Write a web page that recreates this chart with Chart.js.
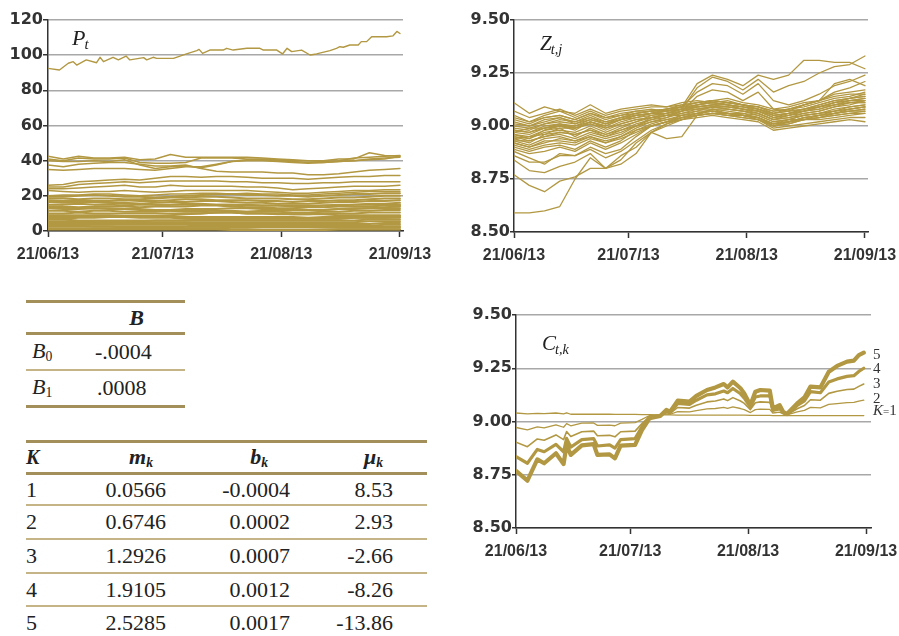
<!DOCTYPE html>
<html>
<head>
<meta charset="utf-8">
<script src="https://cdn.jsdelivr.net/npm/chart.js@4.4.0/dist/chart.umd.min.js"></script>
<style>
  body { margin: 0; background: #fff; width: 899px; height: 636px; overflow: hidden; position: relative; font-family: "Liberation Serif", serif; color: #222; }
  .box { position: absolute; }
  .box canvas { display: block; }
  .ttl { position: absolute; font-style: italic; line-height: 1; white-space: nowrap; color: #222; }
  .ttl sub { font-size: 0.68em; vertical-align: -0.28em; margin-left: -1px; }
  .klab { position: absolute; left: 873px; font-size: 15px; line-height: 15px; color: #333; white-space: nowrap; }
  table { position: absolute; border-collapse: separate; border-spacing: 0; font-size: 22px; table-layout: fixed; }
  td, th { padding: 0; box-sizing: border-box; vertical-align: middle; white-space: nowrap; }
  th { font-weight: bold; font-style: italic; }
  th sub { font-size: 0.62em; vertical-align: -0.2em; }
  td sub { font-size: 0.62em; vertical-align: -0.25em; }
  .top3 { border-top: 3px solid #a38f59; }
  .bot3 td, .bot3 th { border-bottom: 3px solid #a38f59; }
  .bot1 td { border-bottom: 2px solid #c4b486; }
</style>
</head>
<body>

<div class="box" style="left:0;top:0;width:450px;height:270px"><canvas id="chartP" width="450" height="270"></canvas></div>
<div class="box" style="left:450px;top:0;width:449px;height:270px"><canvas id="chartZ" width="449" height="270"></canvas></div>
<div class="box" style="left:450px;top:290px;width:449px;height:280px"><canvas id="chartC" width="449" height="280"></canvas></div>

<div class="ttl" style="left:72px;top:27px;font-size:22px">P<sub>t</sub></div>
<div class="ttl" style="left:540px;top:33px;font-size:21px">Z<sub>t,j</sub></div>
<div class="ttl" style="left:542px;top:333px;font-size:21px">C<sub>t,k</sub></div>

<div class="klab" style="top:347px">5</div>
<div class="klab" style="top:361px">4</div>
<div class="klab" style="top:376px">3</div>
<div class="klab" style="top:391px">2</div>
<div class="klab" style="top:403px"><i>K</i><span style="font-size:11px">=</span>1</div>

<table style="left:26px;top:300px;width:159px" class="top3">
  <colgroup><col style="width:62px"><col style="width:97px"></colgroup>
  <tr class="bot3"><th style="height:32px"></th><th style="height:32px;text-align:center">B</th></tr>
  <tr class="bot1"><td style="height:36px;padding-left:6px"><i>B</i><sub>0</sub></td><td style="height:36px;padding-left:7px">-.0004</td></tr>
  <tr class="bot3"><td style="height:37px;padding-left:6px"><i>B</i><sub>1</sub></td><td style="height:37px;padding-left:9px">.0008</td></tr>
</table>

<table style="left:26px;top:440px;width:401px" class="top3" id="tabK">
  <colgroup><col style="width:54px"><col style="width:100px"><col style="width:120px"><col style="width:127px"></colgroup>
  <tr class="bot3">
    <th style="height:32px;text-align:left;font-size:20px">K</th>
    <th style="height:32px;text-align:right;padding-right:27px">m<sub>k</sub></th>
    <th style="height:32px;text-align:right;padding-right:32px">b<sub>k</sub></th>
    <th style="height:32px;text-align:right;padding-right:44px">μ<sub>k</sub></th>
  </tr>
</table>

<script>
// time axis: days counted from 21/06/13
const xTickDays = [0, 30, 61, 92];
const xTickLabels = ['21/06/13', '21/07/13', '21/08/13', '21/09/13'];
const dayGrid = [0, 4, 8, 12, 16, 20, 24, 28, 32, 36, 40, 44, 48, 52, 56, 60, 64, 68, 72, 76, 80, 84, 88, 92];

// ---- P_t ----
const pTopDays = [0, 3, 5.3, 6.6, 7.5, 10, 12.7, 13.6, 14.5, 17, 18.4, 20.4, 21.4, 25, 25.8, 27.5, 28.4, 32.8, 36.2, 38.9, 39.5, 40.4, 42.3, 45.8, 46.7, 48.4, 52, 55.4, 56.3, 59.8, 61.3, 62.5, 63.7, 66.3, 68.5, 70.2, 73.7, 75.4, 76.3, 77.2, 78.9, 81.1, 81.9, 83.3, 84.6, 88.5, 90.2, 91.2, 92];
const pTop = [92.5, 91.6, 95.4, 96.3, 94.4, 97.3, 95.7, 98.8, 96.3, 98.8, 97.3, 99.5, 97.3, 98.6, 97.3, 98.8, 98.2, 98.2, 100.7, 102.6, 103.3, 101, 102.9, 102.9, 103.9, 102.9, 103.9, 103.9, 102.9, 102.9, 100.7, 103.9, 102, 102.9, 100.1, 100.7, 102.6, 103.9, 104.8, 104.5, 105.8, 105.8, 107.7, 107.7, 110.5, 110.5, 111, 113.5, 112.3];
const pA = [42.5, 41, 42.5, 41.5, 41.5, 42, 40.5, 41, 43.5, 42, 42, 42, 42, 42, 41.5, 41, 40.5, 40, 40, 41, 41, 44.5, 43, 42.5];
const pB = [41, 40, 41.5, 41, 41, 41.5, 39, 38.5, 38.5, 39, 41.5, 41.5, 41.5, 41, 41, 40.5, 40, 40, 39.5, 40, 41.5, 42, 42.5, 43];
const pC = [40, 39.5, 39.5, 40, 39.5, 40.5, 37.5, 35.5, 36.5, 37, 36, 37.5, 39.5, 40.5, 40.5, 40, 39.5, 39, 39, 39.5, 40, 41, 41.5, 42];
const pD = [37.5, 36.5, 38, 38.5, 39, 39, 38, 37, 37, 37.5, 35.5, 34, 33.5, 33.5, 33.5, 33, 33, 32, 32, 32.5, 33.5, 34.5, 35, 35.5];
const pE = [35, 34.5, 35, 35.5, 35.5, 35.5, 35, 34.5, 35.5, 36.5, 36.5, 38, 39.5, 40, 40, 39.5, 39, 38.5, 39, 39.5, 40, 40.5, 41, 42.5];
const pF = [26, 26.5, 28, 28.5, 29, 29.5, 29, 30, 31, 31, 30.5, 31, 31, 30.5, 30, 30, 30, 29.5, 30, 30.5, 31, 31, 31.5, 31.5];
const pG = [25, 25, 26.5, 27, 27.5, 28, 27.5, 28, 28.5, 28.5, 28.5, 28.5, 28, 28, 27.5, 27.5, 27, 27, 27.5, 27.5, 28, 28, 28, 28];
const pH = [24, 24, 24.5, 25, 25.5, 26, 25, 25, 26, 25.5, 25.5, 25.5, 25.5, 25, 25, 24.5, 23.5, 24, 24.5, 25, 25.5, 25.5, 25.5, 26];
const pI = [23, 22.5, 22, 22.5, 22.5, 23, 22.5, 22, 22.5, 23, 23, 23, 23, 23, 22.5, 22, 21.5, 21.5, 22, 22.5, 23, 23, 23.5, 23.5];
const pJ = [20, 20.5, 20.5, 21, 21, 20.5, 20, 20.5, 21, 21, 21.5, 21.5, 21, 21.5, 21, 21, 20.5, 20.5, 21, 21.5, 22, 22.5, 22.5, 22.5];
const pL01 = [19.5, 19.5, 20, 20.5, 20, 19.5, 19.5, 19, 19.5, 20, 20.5, 21, 21, 20.5, 20.5, 20, 20, 19.5, 20, 20.5, 21, 21, 21.5, 21.5];
const pL02 = [18.5, 18.5, 18, 18.5, 18.5, 18, 18, 18.5, 19, 19, 19.5, 19.5, 19, 18.5, 18.5, 18.5, 18, 18, 18.5, 19, 19, 19.5, 20, 20];
const pL03 = [17.5, 17, 17.5, 17, 17, 17.5, 17, 17, 17.5, 18, 18, 17.5, 17.5, 17.5, 17, 17, 16.5, 17, 17, 17.5, 17.5, 18, 18.5, 18.5];
const pL04 = [16.5, 16, 16, 16.5, 16, 16, 15.5, 16, 16.5, 16.5, 17, 17, 16.5, 16, 16, 15.5, 15.5, 15.5, 16, 16.5, 16.5, 17, 17, 17.5];
const pL05 = [15, 15, 15.5, 15, 15, 14.5, 15, 15, 15, 15.5, 15.5, 15, 15, 14.5, 14.5, 14.5, 14, 14, 14.5, 15, 15, 15.5, 15.5, 16];
const pL06 = [14, 14, 13.5, 14, 14, 14, 13.5, 14, 14, 14, 14.5, 14.5, 14, 13.5, 13.5, 13, 13, 13.5, 13.5, 14, 14, 14, 14.5, 14.5];
const pL07 = [13, 12.5, 12.5, 13, 12.5, 12.5, 12.5, 12, 12, 12.5, 12.5, 12.5, 13, 13, 12.5, 12.5, 12.5, 12, 12, 12.5, 12.5, 13, 13, 13];
const pL08 = [11.5, 11.5, 11, 11.5, 11.5, 11, 11, 11, 11.5, 11.5, 11.5, 11.5, 11.5, 11, 11, 11, 10.5, 10.5, 11, 11, 11.5, 11.5, 12, 12];
const pL09 = [10, 10, 10.5, 10, 10, 10, 10, 10, 10, 10, 10, 10.5, 10.5, 10, 10, 9.5, 9.5, 9.5, 10, 10, 10, 10.5, 10.5, 10.5];
const pL10 = [7, 7, 7.5, 7.5, 8, 8, 8.5, 8.5, 9, 9.5, 10, 10.5, 11, 11, 11.5, 11.5, 12, 12, 12, 12.5, 13, 13, 13.5, 14];
const pL11 = [9, 9, 9, 9, 9, 8.5, 8.5, 8.5, 8, 8, 8, 8, 8, 8, 8, 8, 8, 7.5, 8, 8, 8, 8, 8.5, 8.5];
const pL12 = [8, 8, 8, 8, 8, 8, 7.5, 7.5, 7.5, 7, 7, 7, 7, 7, 7, 7, 7, 7, 7, 7, 7.5, 7.5, 7.5, 7.5];
const pL13 = [6.5, 6.5, 6, 6, 6, 6, 6, 6, 6, 6, 6, 6, 6, 6, 6, 6, 6, 6, 6, 6, 6, 6.5, 6.5, 6.5];
const pL14 = [5.5, 5.5, 5.5, 5.5, 5.5, 5.5, 5, 5, 5, 5, 5, 5, 5, 5, 5, 5, 5, 5, 5, 5, 5, 5.5, 5.5, 5.5];
const pL15 = [4.5, 4.5, 4.5, 4.5, 4.5, 4.5, 4.5, 4.5, 4, 4, 4, 4, 4, 4, 4, 4, 4, 4, 4, 4, 4, 4, 4.5, 4.5];
const pL16 = [3.5, 3.5, 3.5, 3.5, 3.5, 3.5, 3.5, 3.5, 3.5, 3.5, 3, 3, 3, 3, 3, 3, 3, 3, 3, 3, 3, 3, 3.5, 3.5];
const pL17 = [2.5, 2.5, 2.5, 2.5, 2.5, 2.5, 2.5, 2.5, 2.5, 2.5, 2.5, 2.5, 2.5, 2.5, 2.5, 2.5, 2.5, 2.5, 2.5, 2.5, 2.5, 2.5, 2.5, 2.5];
const pL18 = [1.5, 1.5, 1.5, 1.5, 1.5, 1.5, 1.5, 1.5, 1.5, 1.5, 1.5, 1.5, 2, 2, 2, 2, 2, 2, 2, 2, 2, 2, 2, 2];
const pL19 = [0.8, 0.8, 0.8, 0.8, 0.8, 0.8, 0.8, 0.8, 0.8, 0.8, 0.8, 0.8, 0.6, 0.6, 0.6, 0.6, 0.6, 0.6, 0.8, 0.8, 0.8, 0.8, 0.8, 0.8];
const pL20 = [3, 3, 3, 2.5, 2.5, 2, 2, 2, 2, 1.5, 1.5, 1.5, 1, 1, 0.5, 0.5, 0.5, 0.5, 0.5, 1, 1, 1, 1, 1];
const pL21 = [13.5, 13.5, 13, 13, 13, 12.5, 12, 12, 11.5, 11, 11, 10.5, 10.5, 10, 10, 10, 9.5, 9.5, 9.5, 9, 9, 9, 9, 9];
const pL22 = [17, 16.5, 16.5, 16.5, 16, 15.5, 15.5, 15, 15, 15, 15, 15, 15, 15, 14.5, 14.5, 14.5, 14.5, 14.5, 14.5, 15, 15, 15, 15];
const pL23 = [5, 5, 5, 5, 5.5, 5.5, 5.5, 6, 6, 6, 6.5, 6.5, 6.5, 7, 7, 7, 7, 7, 7, 7, 7.5, 7.5, 7.5, 8];

// ---- Z_t,j ----
const z01 = [8.59, 8.59, 8.60, 8.62, 8.75, 8.85, 8.80, 8.82, 8.87, 8.97, 9.00, 9.03, 9.05, 9.06, 9.05, 9.04, 9.03, 9.00, 9.02, 9.03, 9.04, 9.05, 9.06, 9.06];
const z02 = [8.77, 8.72, 8.69, 8.74, 8.76, 8.80, 8.80, 8.86, 8.90, 8.97, 9.01, 9.04, 9.06, 9.07, 9.06, 9.05, 9.04, 9.01, 9.02, 9.04, 9.05, 9.06, 9.07, 9.07];
const z03 = [8.84, 8.79, 8.78, 8.81, 8.83, 8.87, 8.80, 8.84, 8.92, 8.97, 8.94, 8.95, 9.05, 9.08, 9.06, 9.05, 9.04, 9.00, 9.01, 9.03, 9.04, 9.06, 9.07, 9.08];
const z04 = [8.88, 8.85, 8.82, 8.87, 8.86, 8.90, 8.87, 8.89, 8.95, 9.00, 9.02, 9.05, 9.07, 9.07, 9.06, 9.06, 9.04, 9.01, 9.03, 9.03, 9.05, 9.06, 9.08, 9.09];
const z05 = [8.90, 8.88, 8.90, 8.91, 8.89, 8.93, 8.90, 8.93, 8.98, 9.01, 9.03, 9.05, 9.06, 9.08, 9.07, 9.06, 9.05, 9.02, 9.03, 9.05, 9.06, 9.08, 9.09, 9.10];
const z06 = [8.92, 8.90, 8.92, 8.94, 8.93, 8.95, 8.93, 8.95, 8.99, 9.02, 9.04, 9.06, 9.07, 9.09, 9.08, 9.07, 9.06, 9.03, 9.04, 9.06, 9.07, 9.09, 9.11, 9.12];
const z07 = [8.93, 8.93, 8.95, 8.96, 8.94, 8.97, 8.95, 8.97, 9.00, 9.03, 9.05, 9.06, 9.08, 9.08, 9.08, 9.07, 9.05, 9.02, 9.03, 9.05, 9.06, 9.07, 9.08, 9.09];
const z08 = [8.94, 8.92, 8.96, 8.97, 8.96, 8.98, 8.96, 8.98, 9.01, 9.03, 9.04, 9.07, 9.08, 9.09, 9.09, 9.08, 9.07, 9.04, 9.05, 9.07, 9.09, 9.11, 9.12, 9.13];
const z09 = [8.95, 8.94, 8.97, 8.98, 8.97, 9.00, 8.97, 9.00, 9.02, 9.04, 9.05, 9.07, 9.09, 9.10, 9.09, 9.08, 9.07, 9.04, 9.06, 9.07, 9.08, 9.10, 9.11, 9.11];
const z10 = [8.96, 8.95, 8.98, 8.99, 8.99, 9.01, 8.98, 9.01, 9.03, 9.04, 9.06, 9.08, 9.08, 9.09, 9.08, 9.07, 9.06, 9.03, 9.04, 9.05, 9.06, 9.07, 9.09, 9.10];
const z11 = [8.97, 8.96, 8.99, 9.00, 8.98, 9.02, 8.99, 9.02, 9.04, 9.05, 9.06, 9.07, 9.09, 9.10, 9.10, 9.09, 9.08, 9.05, 9.06, 9.08, 9.09, 9.11, 9.13, 9.14];
const z12 = [8.98, 8.97, 9.00, 9.01, 9.00, 9.02, 9.00, 9.03, 9.04, 9.06, 9.07, 9.08, 9.10, 9.11, 9.10, 9.09, 9.07, 9.05, 9.06, 9.07, 9.09, 9.10, 9.12, 9.13];
const z13 = [9.00, 8.99, 9.01, 9.02, 9.01, 9.03, 9.01, 9.03, 9.05, 9.06, 9.07, 9.09, 9.09, 9.10, 9.11, 9.10, 9.08, 9.06, 9.07, 9.08, 9.10, 9.12, 9.13, 9.15];
const z14 = [9.01, 9.00, 9.02, 9.04, 9.02, 9.05, 9.02, 9.04, 9.05, 9.06, 9.08, 9.09, 9.10, 9.11, 9.10, 9.09, 9.08, 9.05, 9.06, 9.08, 9.09, 9.11, 9.12, 9.12];
const z15 = [9.03, 9.01, 9.04, 9.05, 9.03, 9.06, 9.03, 9.05, 9.06, 9.07, 9.08, 9.10, 9.11, 9.12, 9.11, 9.10, 9.09, 9.07, 9.08, 9.09, 9.11, 9.13, 9.14, 9.16];
const z16 = [9.05, 9.02, 9.05, 9.07, 9.04, 9.07, 9.04, 9.06, 9.07, 9.08, 9.07, 9.08, 9.10, 9.11, 9.10, 9.08, 9.07, 9.04, 9.05, 9.07, 9.08, 9.10, 9.11, 9.11];
const z17 = [9.07, 9.04, 9.06, 9.08, 9.05, 9.08, 9.05, 9.07, 9.08, 9.09, 9.09, 9.10, 9.11, 9.12, 9.11, 9.10, 9.08, 9.06, 9.07, 9.08, 9.10, 9.12, 9.13, 9.14];
const z18 = [9.11, 9.06, 9.09, 9.07, 9.06, 9.10, 9.06, 9.08, 9.09, 9.10, 9.09, 9.11, 9.12, 9.11, 9.12, 9.10, 9.09, 9.06, 9.08, 9.10, 9.12, 9.15, 9.16, 9.17];
const z19 = [8.91, 8.89, 8.91, 8.92, 8.91, 8.94, 8.92, 8.94, 8.97, 9.00, 9.02, 9.04, 9.06, 9.07, 9.06, 9.05, 9.04, 9.01, 9.02, 9.04, 9.05, 9.06, 9.07, 9.08];
const z20 = [8.94, 8.95, 8.96, 8.99, 8.95, 8.99, 8.96, 8.99, 9.02, 9.05, 9.06, 9.08, 9.09, 9.09, 9.09, 9.08, 9.06, 9.03, 9.05, 9.06, 9.07, 9.09, 9.10, 9.12];
const z21 = [8.99, 8.98, 9.01, 9.03, 9.02, 9.04, 9.01, 9.04, 9.06, 9.07, 9.08, 9.09, 9.11, 9.12, 9.11, 9.10, 9.09, 9.07, 9.08, 9.10, 9.12, 9.14, 9.15, 9.15];
const z22 = [9.02, 9.00, 9.03, 9.04, 9.01, 9.04, 9.02, 9.04, 9.06, 9.07, 9.07, 9.09, 9.20, 9.24, 9.22, 9.19, 9.24, 9.22, 9.24, 9.31, 9.31, 9.30, 9.30, 9.27];
const z23 = [8.96, 8.94, 8.98, 9.00, 8.99, 9.02, 9.00, 9.03, 9.05, 9.06, 9.07, 9.08, 9.18, 9.23, 9.21, 9.17, 9.22, 9.16, 9.19, 9.21, 9.25, 9.28, 9.29, 9.33];
const z24 = [9.04, 9.02, 9.04, 9.05, 9.03, 9.06, 9.04, 9.05, 9.07, 9.07, 9.08, 9.09, 9.16, 9.20, 9.19, 9.15, 9.20, 9.12, 9.10, 9.12, 9.15, 9.19, 9.21, 9.24];
const z25 = [8.93, 8.91, 8.94, 8.95, 8.93, 8.96, 8.94, 8.96, 9.00, 9.04, 9.05, 9.07, 9.14, 9.17, 9.16, 9.12, 9.16, 9.08, 9.07, 9.10, 9.12, 9.16, 9.18, 9.21];
const z26 = [8.97, 8.99, 8.99, 9.00, 9.00, 9.03, 9.01, 9.03, 9.05, 9.06, 9.06, 9.08, 9.10, 9.12, 9.13, 9.11, 9.10, 9.08, 9.09, 9.11, 9.12, 9.20, 9.22, 9.19];
const z27 = [8.92, 8.90, 8.93, 8.93, 8.92, 8.95, 8.92, 8.95, 8.98, 9.00, 9.02, 9.03, 9.04, 9.05, 9.04, 9.03, 9.02, 8.98, 8.99, 9.00, 9.01, 9.02, 9.03, 9.02];
const z28 = [8.95, 8.93, 8.95, 8.97, 8.96, 8.98, 8.95, 8.98, 9.00, 9.02, 9.03, 9.04, 9.05, 9.06, 9.05, 9.04, 9.03, 8.99, 9.00, 9.01, 9.02, 9.03, 9.04, 9.04];
const z29 = [8.98, 8.97, 8.99, 9.01, 8.99, 9.01, 8.99, 9.01, 9.03, 9.04, 9.05, 9.05, 9.06, 9.07, 9.06, 9.05, 9.04, 9.00, 9.01, 9.03, 9.03, 9.04, 9.05, 9.06];
const z30 = [8.89, 8.87, 8.88, 8.90, 8.88, 8.92, 8.89, 8.92, 8.96, 9.00, 9.02, 9.04, 9.05, 9.06, 9.05, 9.05, 9.03, 9.00, 9.02, 9.03, 9.04, 9.05, 9.06, 9.07];
const z31 = [8.86, 8.83, 8.83, 8.86, 8.86, 8.89, 8.85, 8.88, 8.93, 8.98, 9.01, 9.03, 9.05, 9.06, 9.06, 9.05, 9.04, 9.01, 9.02, 9.04, 9.05, 9.07, 9.08, 9.09];

// ---- C_t,k ----
const cDays = [0, 3, 5.6, 7.4, 10.5, 12.5, 13.3, 14.4, 17.3, 20.4, 21.4, 24.6, 26, 27.5, 31.3, 33.1, 35.1, 37.9, 39.5, 40.5, 42.5, 45.6, 47.4, 50.2, 52.4, 54.6, 55.6, 57, 59, 60, 61.6, 62.9, 64.2, 66.7, 67.5, 69.3, 70.2, 71.2, 73.9, 75.8, 77.4, 80, 82.2, 84.4, 87, 88.8, 90.1, 91.4];
const c5 = [8.768, 8.722, 8.822, 8.804, 8.851, 8.800, 8.890, 8.843, 8.888, 8.894, 8.843, 8.846, 8.827, 8.887, 8.890, 8.960, 9.015, 9.026, 9.054, 9.046, 9.098, 9.093, 9.120, 9.148, 9.160, 9.176, 9.160, 9.187, 9.156, 9.132, 9.077, 9.140, 9.148, 9.145, 9.062, 9.077, 9.046, 9.035, 9.085, 9.113, 9.164, 9.160, 9.234, 9.261, 9.281, 9.286, 9.312, 9.323];
const c4 = [8.835, 8.804, 8.869, 8.858, 8.893, 8.858, 8.921, 8.880, 8.915, 8.920, 8.885, 8.890, 8.875, 8.915, 8.920, 8.975, 9.020, 9.028, 9.050, 9.042, 9.085, 9.080, 9.100, 9.125, 9.130, 9.143, 9.135, 9.155, 9.130, 9.110, 9.068, 9.115, 9.120, 9.120, 9.055, 9.065, 9.042, 9.033, 9.075, 9.097, 9.140, 9.135, 9.185, 9.200, 9.212, 9.215, 9.235, 9.250];
const c3 = [8.903, 8.882, 8.918, 8.912, 8.937, 8.915, 8.953, 8.930, 8.952, 8.955, 8.933, 8.935, 8.928, 8.952, 8.955, 8.990, 9.024, 9.028, 9.042, 9.038, 9.066, 9.063, 9.076, 9.092, 9.096, 9.106, 9.098, 9.112, 9.096, 9.085, 9.056, 9.088, 9.092, 9.090, 9.048, 9.055, 9.040, 9.032, 9.060, 9.075, 9.102, 9.100, 9.132, 9.142, 9.150, 9.152, 9.165, 9.176];
const c2 = [8.972, 8.961, 8.975, 8.970, 8.984, 8.973, 8.990, 8.980, 8.992, 8.993, 8.982, 8.983, 8.980, 8.992, 8.995, 9.010, 9.028, 9.030, 9.036, 9.034, 9.046, 9.045, 9.051, 9.059, 9.061, 9.066, 9.062, 9.069, 9.061, 9.056, 9.042, 9.056, 9.058, 9.057, 9.040, 9.044, 9.036, 9.031, 9.045, 9.052, 9.066, 9.064, 9.080, 9.084, 9.089, 9.090, 9.096, 9.100];
const c1 = [9.040, 9.036, 9.038, 9.037, 9.040, 9.036, 9.041, 9.034, 9.034, 9.034, 9.034, 9.034, 9.033, 9.033, 9.033, 9.032, 9.032, 9.031, 9.031, 9.031, 9.030, 9.030, 9.030, 9.030, 9.030, 9.030, 9.030, 9.030, 9.030, 9.030, 9.029, 9.029, 9.029, 9.029, 9.028, 9.028, 9.028, 9.028, 9.028, 9.028, 9.028, 9.028, 9.028, 9.028, 9.028, 9.028, 9.028, 9.028];

// ---- tables ----
const kRows = ['1', '2', '3', '4', '5'];
const mK = ['0.0566', '0.6746', '1.2926', '1.9105', '2.5285'];
const bK = ['-0.0004', '0.0002', '0.0007', '0.0012', '0.0017'];
const muK = ['8.53', '2.93', '-2.66', '-8.26', '-13.86'];

const GOLD = 'rgb(178,152,66)';
const INK = '#333333';
const GRID = '#a8a8a8';

const tab = document.getElementById('tabK');
const rowH = [31, 34, 34, 33, 34];
kRows.forEach((k, i) => {
  const tr = document.createElement('tr');
  tr.className = 'bot1';
  const h = rowH[i];
  tr.innerHTML = `<td style="height:${h}px">${k}</td>` +
    `<td style="height:${h}px;text-align:right;padding-right:14px">${mK[i]}</td>` +
    `<td style="height:${h}px;text-align:right;padding-right:10px">${bK[i]}</td>` +
    `<td style="height:${h}px;text-align:right;padding-right:34px">${muK[i]}</td>`;
  tab.appendChild(tr);
});

function lineSet(days, values, width) {
  return {
    data: values.map((v, i) => ({ x: days[i], y: v })),
    borderColor: GOLD,
    borderWidth: width,
    pointRadius: 0,
    fill: false,
    tension: 0,
    borderJoinStyle: 'round',
    borderCapStyle: 'round'
  };
}

function buildOptions(c) {
  return {
    responsive: false,
    animation: false,
    layout: { padding: { top: c.top, right: c.right, left: 0, bottom: 0 } },
    plugins: { legend: { display: false }, tooltip: { enabled: false } },
    scales: {
      x: {
        type: 'linear', min: 0, max: c.xMax,
        afterBuildTicks: s => { s.ticks = xTickDays.map(v => ({ value: v })); },
        afterFit: s => { s.height = c.xHeight; s.paddingLeft = 0; s.paddingRight = 0; },
        ticks: {
          callback: (v, i) => xTickLabels[i],
          color: INK, autoSkip: false, maxRotation: 0, padding: 8,
          font: { family: 'Liberation Sans', weight: 'bold', size: 16 }
        },
        grid: { drawOnChartArea: false, tickLength: 6, tickColor: INK, tickWidth: 1.5 },
        border: { color: INK, width: 1.5 }
      },
      y: {
        min: c.yMin, max: c.yMax,
        afterFit: s => { s.width = c.yWidth; s.paddingTop = 0; s.paddingBottom = 0; },
        ticks: {
          stepSize: c.step, color: INK, padding: 0,
          callback: v => c.fmt(v),
          font: { family: 'DejaVu Sans', weight: 'bold', size: 16 }
        },
        grid: { color: GRID, lineWidth: 1.5, tickLength: c.tickLen, tickColor: INK, tickWidth: 1.5 },
        border: { color: INK, width: 1.5 }
      }
    }
  };
}

const pUpper = [pA, pB, pC, pD, pE, pF, pG, pH, pI, pJ].map(s => lineSet(dayGrid, s, 1.5));
const pLower = [pL01, pL02, pL03, pL04, pL05, pL06, pL07, pL08, pL09, pL10, pL11, pL12,
  pL13, pL14, pL15, pL16, pL17, pL18, pL19, pL20, pL21, pL22, pL23].map(s => lineSet(dayGrid, s, 2));
const pSets = [lineSet(pTopDays, pTop, 1.4)].concat(pUpper, pLower);

new Chart(document.getElementById('chartP'), {
  type: 'line',
  data: { datasets: pSets },
  options: buildOptions({ top: 20, right: 47, xHeight: 39, yWidth: 48, xMax: 92.8,
    yMin: 0, yMax: 120, step: 20, tickLen: 5, fmt: v => String(v) })
});

const zSets = [z01, z02, z03, z04, z05, z06, z07, z08, z09, z10, z11, z12, z13, z14, z15, z16,
  z17, z18, z19, z20, z21, z22, z23, z24, z25, z26, z27, z28, z29, z30, z31]
  .map(s => lineSet(dayGrid, s, 1.3));

new Chart(document.getElementById('chartZ'), {
  type: 'line',
  data: { datasets: zSets },
  options: buildOptions({ top: 20, right: 31, xHeight: 38, yWidth: 64, xMax: 92.8,
    yMin: 8.5, yMax: 9.5, step: 0.25, tickLen: 4, fmt: v => v.toFixed(2) })
});

new Chart(document.getElementById('chartC'), {
  type: 'line',
  data: { datasets: [
    lineSet(cDays, c5, 4.2),
    lineSet(cDays, c4, 3.2),
    lineSet(cDays, c3, 1.6),
    lineSet(cDays, c2, 1.3),
    lineSet(cDays, c1, 1.3)
  ] },
  options: buildOptions({ top: 25, right: 28, xHeight: 42, yWidth: 66, xMax: 93.3,
    yMin: 8.5, yMax: 9.5, step: 0.25, tickLen: 4, fmt: v => v.toFixed(2) })
});
</script>
</body>
</html>
